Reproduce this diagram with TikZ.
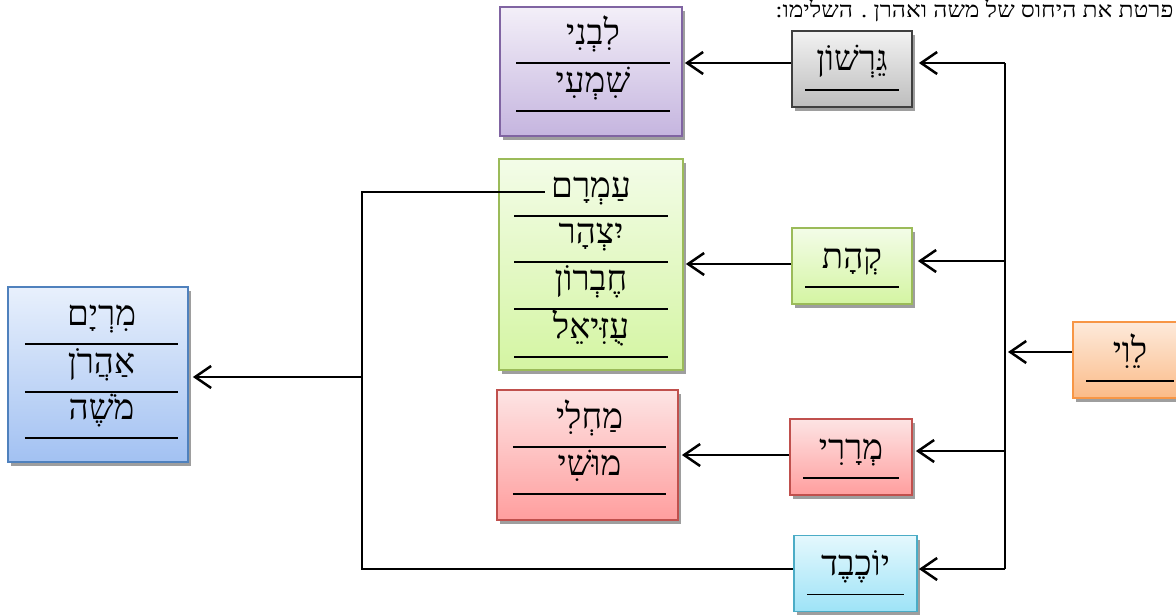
\documentclass[tikz,border=0pt]{standalone}
\usepackage{fontspec}
\usetikzlibrary{arrows.meta,shadows}
\newfontfamily\heb[Script=Hebrew]{Liberation Serif}
\TeXXeTstate=1
\newcommand{\hb}[1]{\beginR#1\endR}
\definecolor{grayT}{HTML}{F2F2F2}\definecolor{grayB}{HTML}{BDBDBD}\definecolor{grayD}{HTML}{3F3F3F}
\definecolor{purpT}{HTML}{F3EFF8}\definecolor{purpB}{HTML}{C5B5DF}\definecolor{purpD}{HTML}{8064A2}
\definecolor{grnT}{HTML}{F3FCE8}\definecolor{grnB}{HTML}{D4F5A2}\definecolor{grnD}{HTML}{9BBB59}
\definecolor{bluT}{HTML}{E8F0FC}\definecolor{bluB}{HTML}{A2C1F2}\definecolor{bluD}{HTML}{4F81BD}
\definecolor{orT}{HTML}{FDEADB}\definecolor{orB}{HTML}{FBBB88}\definecolor{orD}{HTML}{F79646}
\definecolor{redT}{HTML}{FDE4E4}\definecolor{redB}{HTML}{FF9E9E}\definecolor{redD}{HTML}{C0504D}
\definecolor{cyT}{HTML}{E4F8FD}\definecolor{cyB}{HTML}{9EE3F7}\definecolor{cyD}{HTML}{4BACC6}
\def\labelsize{35}

\begin{document}
\begin{tikzpicture}[x=1pt, y=-1pt, font=\heb\fontsize{\labelsize}{\labelsize}\selectfont]
	\tikzset{edge/.style={-{Straight Barb[length=16pt,width=22pt]}, line width=2.5pt}}
	\tikzset{bus/.style={line width=2.5pt}}
	\tikzset{uline/.style={line width=1.8pt}}
	\tikzset{box/.style={draw, line width=1.8pt, inner sep=0pt, drop shadow={shadow xshift=3pt, shadow yshift=-4pt, fill=black!38, opacity=1}}}
	\tikzset{son/.style={box, minimum width=120pt, minimum height=76pt, text height=40pt, text depth=36pt}}
	\tikzset{entry/.style={anchor=south, inner sep=0pt, minimum width=153pt, text height=28pt, text depth=18pt}}
	\tikzset{grayfill/.style={top color=grayT, bottom color=grayB, draw=grayD}}
	\tikzset{purplefill/.style={top color=purpT, bottom color=purpB, draw=purpD}}
	\tikzset{greenfill/.style={top color=grnT, bottom color=grnB, draw=grnD}}
	\tikzset{bluefill/.style={top color=bluT, bottom color=bluB, draw=bluD}}
	\tikzset{orangefill/.style={top color=orT, bottom color=orB, draw=orD}}
	\tikzset{redfill/.style={top color=redT, bottom color=redB, draw=redD}}
	\tikzset{cyanfill/.style={top color=cyT, bottom color=cyB, draw=cyD}}
	\useasboundingbox (0,0) rectangle (1176,615);
	% task line
	\node[anchor=base east, font=\heb\fontsize{22}{22}\selectfont] (task) at (1177,18) {\scalebox{1.12}[1]{\hb{פרטת את היחוס של משה ואהרן . השלימו:}}};
	% sons of levi
	\node[son, grayfill] (gershon) at (852,69) {\hb{גֵּרְשׁוֹן}};
	\node[son, greenfill] (kehat) at (852,266) {\hb{קְהָת}};
	\node[son, orangefill, minimum width=114pt] (levi) at (1130,360) {\hb{לֵוִי}};
	\node[son, redfill, minimum width=122pt] (merari) at (851,457) {\hb{מְרָרִי}};
	\node[son, cyanfill, minimum width=123pt] (yocheved) at (855.5,573.5) {\hb{יוֹכֶבֶד}};
	\foreach \n in {gershon,kehat,levi,merari,yocheved}
		\draw[uline] ([xshift=14pt,yshift=18pt]\n.south west) -- ([xshift=-14pt,yshift=18pt]\n.south east);
	% grandsons
	\node[box, purplefill, minimum width=182pt, minimum height=129pt] (bneigershon) at (591,71.5) {};
	\node[box, greenfill, minimum width=184pt, minimum height=211pt] (bneikehat) at (591,264.5) {};
	\node[box, redfill, minimum width=181pt, minimum height=130pt] (bneimerari) at (587.5,455) {};
	\node[box, bluefill, minimum width=180pt, minimum height=175pt] (bneiamram) at (98,374.5) {};
	\node[entry] (libni) at (593,63) {\hb{לִבְנִי}};
	\node[entry] (shimi) at (593,111) {\hb{שִׁמְעִי}};
	\node[entry] (amram) at (591,216) {\hb{עַמְרָם}};
	\node[entry] (yitzhar) at (591,262) {\hb{יִצְהָר}};
	\node[entry] (hevron) at (591,309) {\hb{חֶבְרוֹן}};
	\node[entry] (uziel) at (591,357) {\hb{עֻזִּיאֵל}};
	\node[entry] (mahli) at (589.5,447) {\hb{מַחְלִי}};
	\node[entry] (mushi) at (589.5,494) {\hb{מוּשִׁי}};
	\node[entry] (miriam) at (101.5,344) {\hb{מִרְיָם}};
	\node[entry] (aharon) at (101.5,392) {\hb{אַהֲרֹן}};
	\node[entry] (moshe) at (101.5,438) {\hb{מֹשֶׁה}};
	\foreach \n in {libni,shimi,amram,yitzhar,hevron,uziel,mahli,mushi,miriam,aharon,moshe}
		\draw[uline] (\n.south west) -- (\n.south east);
	% connectors
	\coordinate (rtop) at (1005,63);
	\coordinate (rbot) at (1005,569);
	\coordinate (ltop) at (362,192);
	\coordinate (lmid) at (362,377);
	\coordinate (lbot) at (362,569);
	\draw[bus] (rtop) -- (rbot);
	\draw[edge, shorten >=6pt] (rtop) -- (rtop -| gershon.east);
	\draw[edge, shorten >=5pt] ([yshift=5pt]kehat.east -| rtop) -- ([yshift=5pt]kehat.east);
	\draw[edge, shorten >=3pt] ([yshift=6pt]merari.east -| rtop) -- ([yshift=6pt]merari.east);
	\draw[edge, shorten >=1pt] (rbot) -- (rbot -| yocheved.east);
	\draw[edge, shorten >=3pt] ([yshift=8pt]levi.west) -- ([yshift=8pt]levi.west -| rtop);
	\draw[edge, shorten >=2pt] ([yshift=6pt]gershon.west) -- ([yshift=6pt]gershon.west -| bneigershon.east);
	\draw[edge, shorten >=2pt] ([yshift=2pt]kehat.west) -- ([yshift=2pt]kehat.west -| bneikehat.east);
	\draw[edge, shorten >=3pt] ([yshift=2pt]merari.west) -- ([yshift=2pt]merari.west -| bneimerari.east);
	\draw[edge, shorten >=4pt] (lmid) -- (lmid -| bneiamram.east);
	\draw[bus] (lbot -| yocheved.west) -- (lbot) -- (ltop) -- ([xshift=31pt]ltop -| amram.west);
\end{tikzpicture}
\end{document}
